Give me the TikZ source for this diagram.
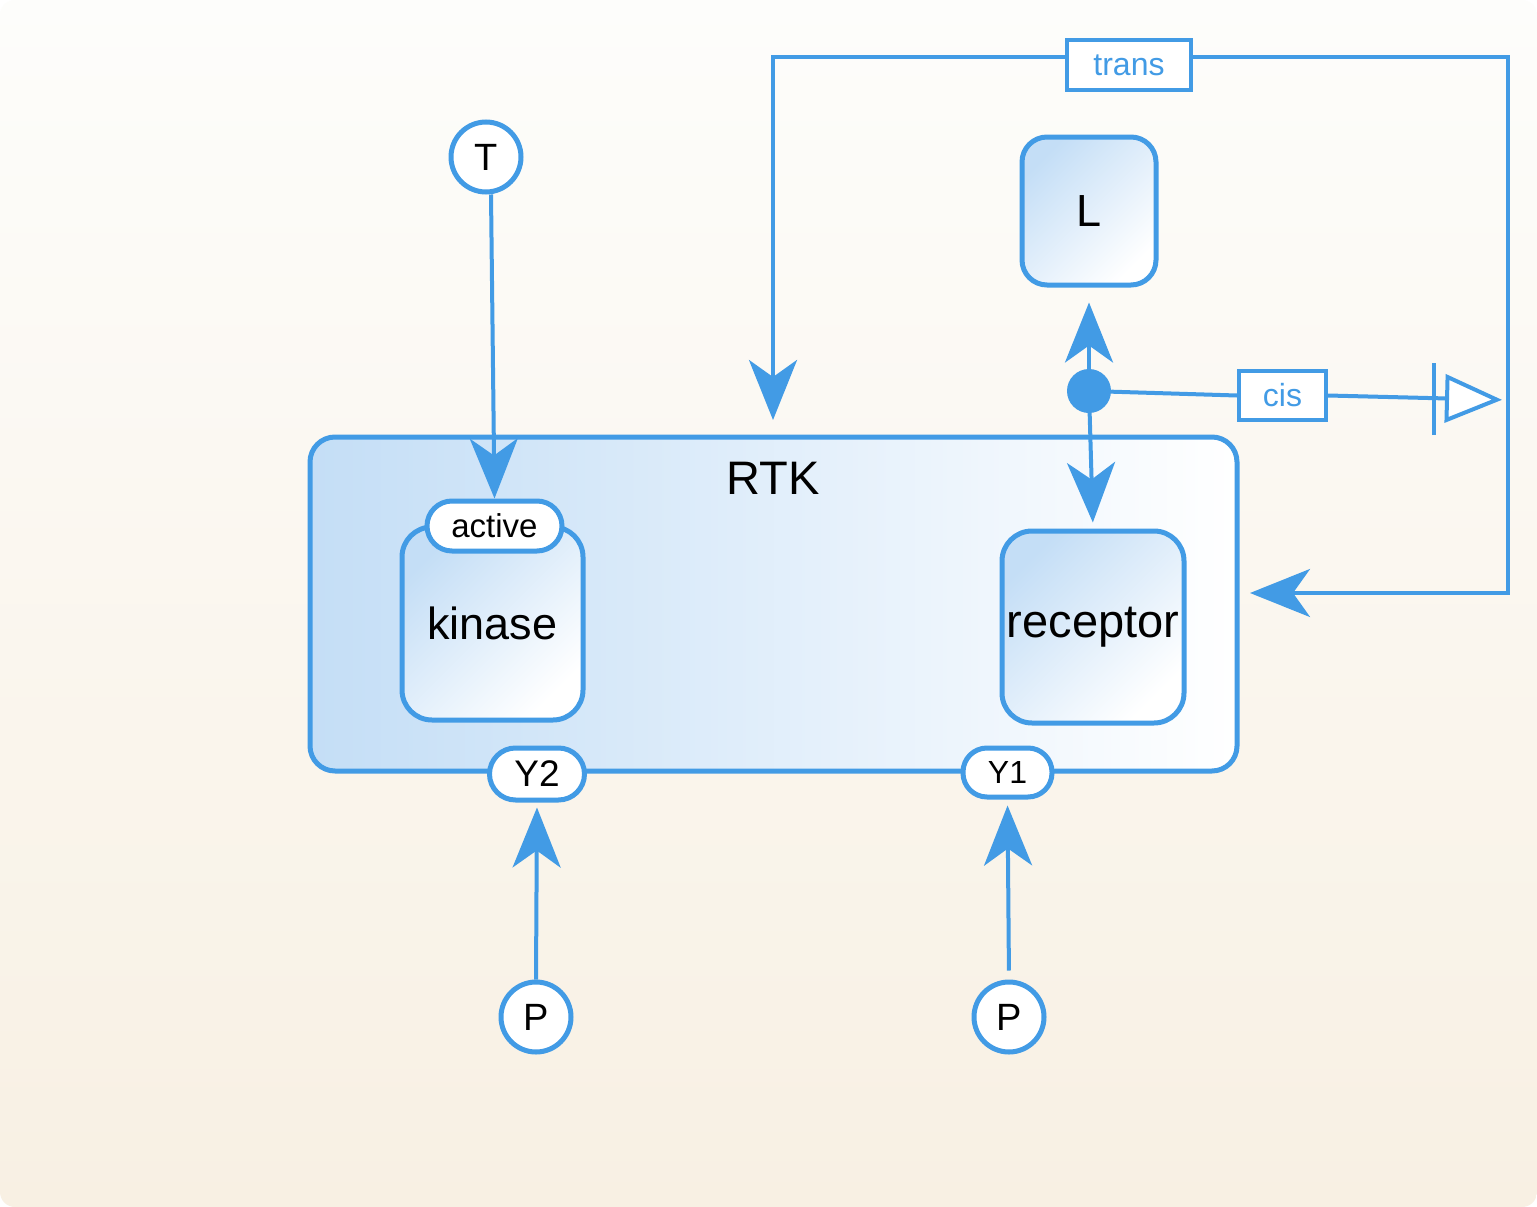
\documentclass[tikz,border=0pt]{standalone}
\usepackage{fontspec}
\setmainfont{Liberation Sans}
\usetikzlibrary{arrows.meta}

\definecolor{sbblue}{RGB}{66,155,229}
\definecolor{boxblue}{RGB}{196,222,246}
\definecolor{bgtop}{RGB}{253,253,251}
\definecolor{bgbottom}{RGB}{248,240,227}

\tikzset{
  compbox/.style={draw=sbblue, line width=5pt, rounded corners=30pt,
    top color=boxblue, bottom color=white, shading angle=45},
  statetag/.style={draw=sbblue, line width=5pt, fill=white, rounded corners=25pt,
    inner sep=0pt},
  statecirc/.style={circle, draw=sbblue, line width=5pt, fill=white, minimum size=70pt,
    inner sep=0pt, font=\fontsize{38}{44}\selectfont},
  unitbox/.style={draw=sbblue, line width=4pt, fill=white, text=sbblue,
    inner sep=0pt, font=\fontsize{32}{38}\selectfont},
  conn/.style={draw=sbblue, line width=4pt},
  arr/.style={conn, -{Stealth[length=60pt, width=48pt, inset=17pt]}},
}

\begin{document}
\begin{tikzpicture}[x=1pt, y=-1pt]

% Background
\useasboundingbox (0,0) rectangle (1537,1207);
\fill[white] (0,0) rectangle (1537,1207);
\shade[top color=bgtop, bottom color=bgbottom, rounded corners=15pt] (0,0) rectangle (1537,1207);

% Complex RTK
\node[compbox, rounded corners=25pt, left color=boxblue, right color=white,
  minimum width=927pt, minimum height=334pt] (rtk) at (773.5,604) {};
\node[font=\fontsize{47}{56}\selectfont] (rtklabel) at (773,478) {RTK};

% Subunits
\node[compbox, minimum width=181pt, minimum height=193pt,
  font=\fontsize{45}{54}\selectfont] (kinase) at (492.5,623.5) {kinase};
\node[compbox, minimum width=182pt, minimum height=192pt,
  font=\fontsize{47}{56}\selectfont] (receptor) at (1093,627) {receptor};
\node[compbox, rounded corners=25pt, minimum width=134pt, minimum height=148pt,
  font=\fontsize{45}{54}\selectfont] (ligand) at (1089,211) {L};

% State variables
\node[statetag, minimum width=135pt, minimum height=50pt,
  font=\fontsize{33}{40}\selectfont] (active) at (494.5,526) {active};
\node[statetag, rounded corners=26pt, minimum width=95pt, minimum height=52pt,
  font=\fontsize{37}{44}\selectfont] (ytwo) at (537,774) {Y2};
\node[statetag, rounded corners=24pt, minimum width=89pt, minimum height=49pt,
  font=\fontsize{32}{38}\selectfont] (yone) at (1007.5,772.5) {Y1};

% Simple chemicals
\node[statecirc] (T) at (486,157) {T};
\node[statecirc] (Pleft) at (536,1017) {P};
\node[statecirc] (Pright) at (1009,1017) {P};

% Association
\node[circle, fill=sbblue, minimum size=44pt, inner sep=0pt] (assoc) at (1089,391) {};

% Units of information
\node[unitbox, minimum width=87pt, minimum height=49pt] (cis) at (1282.5,395.5) {cis};
\node[unitbox, minimum width=124pt, minimum height=50pt] (trans) at (1129,65) {trans};

% Free ends
\coordinate (junc) at (1508,400);
\coordinate (topright) at (1508,57);
\coordinate (topleft) at (773,57);
\coordinate (rtktop) at (773,420);
\coordinate (rtkright) at (1250,593);
\coordinate (barc) at (1434,399);

% Arcs
\draw[arr] ([xshift=5pt]T.south) -- (active.north);
\draw[arr, shorten >=15pt] (assoc) -- (ligand.south);
\draw[arr, shorten >=6pt] (assoc) -- (receptor.north);
\draw[arr, shorten >=5pt] (Pleft.north) -- (ytwo.south);
\draw[arr, shorten <=9pt, shorten >=6pt] (Pright.north) -- (yone.south);

% Logic of cis and trans
\draw[conn] (assoc) -- (cis.west);
\draw[conn, -{Triangle[open, length=57pt, width=48pt, fill=white]}, shorten >=6pt]
  (cis.east) -- (junc);
\draw[conn] ([yshift=-36pt]barc) -- ([yshift=36pt]barc);
\draw[conn] (junc) -- (topright) -- (trans.east |- topright);
\draw[arr] (trans.west |- topleft) -- (topleft) -- (rtktop);
\draw[arr] (junc) |- (rtkright);

\end{tikzpicture}
\end{document}
